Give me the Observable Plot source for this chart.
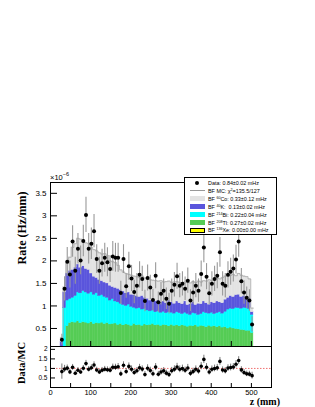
<!DOCTYPE html>
<html><head><meta charset="utf-8">
<script src="https://cdn.jsdelivr.net/npm/d3@7"></script>
<script src="https://cdn.jsdelivr.net/npm/@observablehq/plot@0.6"></script>
<style>
html,body{margin:0;padding:0;background:#fff;}
#wrap{position:relative;width:315px;height:407px;overflow:hidden;background:#fff;font-family:"Liberation Sans",Arial,sans-serif;}
#wrap svg{position:absolute;left:0;}
.ttl{position:absolute;font-family:"Liberation Serif","Times New Roman",serif;font-weight:bold;font-size:10.5px;line-height:10px;white-space:nowrap;color:#000;}
.rot{transform:translate(-50%,-50%) rotate(-90deg);}
#exp{position:absolute;left:50px;top:171px;font-size:7.5px;color:#000;}
#exp sup{font-size:5.5px;}
#legend{position:absolute;left:184px;top:177px;width:93px;height:58px;border:1px solid #000;background:#fff;box-sizing:border-box;}
.lrow{position:absolute;left:0;width:100%;height:8px;}
.ltxt{position:absolute;left:23px;top:0;font-size:5.4px;line-height:8px;white-space:nowrap;color:#000;}
.ltxt sup{font-size:3.6px;vertical-align:2px;line-height:0;}
.lsym{position:absolute;}
</style></head><body><div id="wrap"></div>
<script>
// ---- data (rate in units of 1e-6 Hz/mm) ----
const zStart = 25, zWidth = 480 / 72; // bin edges in mm
const dataRate = [0.25,1.38,1.98,1.70,2.43,1.78,2.27,2.01,2.44,3.02,2.27,2.38,2.66,2.04,1.78,1.95,2.07,1.97,1.82,2.10,
  2.07,2.07,1.29,2.04,1.44,1.88,1.61,1.31,1.45,1.69,1.60,1.11,1.62,1.41,1.13,1.67,1.08,1.27,1.34,1.16,
  1.05,1.34,1.47,1.66,1.45,1.49,1.38,1.56,1.12,1.30,1.45,1.34,1.71,2.30,1.65,1.28,1.49,1.60,1.67,2.19,
  1.49,1.45,1.69,1.76,1.83,2.03,2.43,1.55,1.30,1.18,1.12,0.59];
const dataErr = [0.12,0.27,0.32,0.30,0.35,0.30,0.34,0.32,0.35,0.39,0.34,0.35,0.37,0.32,0.30,0.31,0.32,0.32,0.30,0.33,
  0.32,0.32,0.26,0.32,0.27,0.31,0.29,0.26,0.27,0.29,0.28,0.24,0.29,0.27,0.24,0.29,0.23,0.25,0.26,0.24,
  0.23,0.26,0.27,0.29,0.27,0.27,0.26,0.28,0.24,0.26,0.27,0.26,0.29,0.34,0.29,0.25,0.27,0.28,0.29,0.33,
  0.27,0.27,0.29,0.30,0.30,0.32,0.35,0.28,0.26,0.24,0.24,0.17];
const mcTl = [0,0,0.55,0.62,0.64,0.63,0.66,0.62,0.64,0.63,0.61,0.64,0.60,0.62,0.61,0.63,0.60,0.62,0.59,0.60,
  0.61,0.58,0.60,0.57,0.59,0.58,0.56,0.60,0.57,0.58,0.56,0.59,0.57,0.58,0.60,0.57,0.58,0.56,0.58,0.57,
  0.55,0.58,0.56,0.57,0.55,0.57,0.56,0.54,0.56,0.55,0.57,0.54,0.56,0.55,0.53,0.56,0.54,0.55,0.53,0.55,
  0.52,0.53,0.50,0.52,0.50,0.49,0.48,0.47,0.46,0.45,0.45,0.40];
const mcBi = [0.05,0.95,0.57,0.53,0.54,0.59,0.64,0.66,0.69,0.67,0.66,0.66,0.65,0.66,0.61,0.61,0.60,0.56,0.53,0.55,
  0.49,0.50,0.45,0.45,0.41,0.45,0.42,0.36,0.37,0.37,0.36,0.34,0.33,0.30,0.30,0.29,0.30,0.29,0.29,0.27,
  0.31,0.27,0.27,0.29,0.29,0.25,0.29,0.28,0.24,0.29,0.26,0.26,0.26,0.31,0.31,0.27,0.31,0.27,0.31,0.31,
  0.31,0.34,0.42,0.42,0.43,0.47,0.47,0.47,0.50,0.50,0.48,0.40];
const mcK = [0.15,0.35,0.60,0.63,0.62,0.63,0.62,0.57,0.55,0.52,0.53,0.42,0.40,0.34,0.36,0.31,0.32,0.32,0.33,0.27,
  0.30,0.30,0.30,0.30,0.28,0.27,0.27,0.28,0.28,0.25,0.30,0.25,0.26,0.24,0.24,0.24,0.24,0.23,0.23,0.22,
  0.26,0.23,0.22,0.24,0.22,0.22,0.25,0.20,0.24,0.24,0.19,0.25,0.22,0.24,0.22,0.20,0.23,0.24,0.26,0.22,
  0.23,0.27,0.26,0.28,0.27,0.28,0.30,0.26,0.26,0.25,0.23,0.06];
const mcCo = [0.10,0.12,0.23,0.30,0.50,0.53,0.58,0.63,0.54,0.58,0.58,0.58,0.60,0.60,0.60,0.60,0.64,0.62,0.55,0.56,
  0.56,0.52,0.45,0.43,0.44,0.40,0.43,0.42,0.43,0.43,0.44,0.44,0.44,0.46,0.43,0.46,0.43,0.48,0.43,0.48,
  0.43,0.44,0.48,0.44,0.46,0.46,0.43,0.50,0.47,0.46,0.50,0.50,0.49,0.46,0.49,0.55,0.48,0.54,0.52,0.52,
  0.57,0.52,0.48,0.46,0.50,0.43,0.47,0.48,0.44,0.45,0.44,0.09];
const xTicks = [0,100,200,300,400,500];
const xSmallTicks = [50,100,150,200,250,300,350,400,450,500];
const yTicks = [0.5,1,1.5,2,2.5,3,3.5];
const ratioTicks = [0.5,1,1.5,2];
const compKeys = ["Tl","Bi","K","Co"];
const compColors = ["#55cc55","#00ffff","#5a55dc","#e3e3e3"];
const legendItems = [
  {pre:"Data: 0.84\u00b10.02 mHz", sup:"", post:"", sym:"dot"},
  {pre:"BF MC: \u03c7", sup:"2", post:"=135.5/127", sym:"line"},
  {pre:"BF ", sup:"60", post:"Co: 0.33\u00b10.12 mHz", sym:"box", color:"#e3e3e3"},
  {pre:"BF ", sup:"40", post:"K: &nbsp;0.13\u00b10.02 mHz", sym:"box", color:"#5a55dc"},
  {pre:"BF ", sup:"214", post:"Bi: 0.22\u00b10.04 mHz", sym:"box", color:"#00ffff"},
  {pre:"BF ", sup:"208", post:"Tl: 0.27\u00b10.02 mHz", sym:"box", color:"#55cc55"},
  {pre:"BF ", sup:"136", post:"Xe: 0.00\u00b10.00 mHz", sym:"box", color:"#ffff00", border:true}
];

// ---- tables ----
const comps = [mcTl, mcBi, mcK, mcCo];
const stackRows = [];
comps.forEach((arr, c) => arr.forEach((v, i) => stackRows.push({
  z1: zStart + i * zWidth, z2: zStart + (i + 1) * zWidth, v, comp: compKeys[c]})));
const bins = dataRate.map((v, i) => {
  const tot = mcTl[i] + mcBi[i] + mcK[i] + mcCo[i];
  return {z: zStart + (i + 0.5) * zWidth, z1: zStart + i * zWidth, v, e: dataErr[i], tot,
          r: v / tot, re: dataErr[i] / tot};
});
const outline = bins.map(b => ({z: b.z1, t: b.tot}));
outline.push({z: zStart + bins.length * zWidth, t: bins[bins.length - 1].tot});

const wrap = document.getElementById("wrap");
const font = "Liberation Sans, Arial, sans-serif";

const topH = 176, fw = 221;
const topPlot = Plot.plot({
  width: 315, height: topH, marginLeft: 50, marginRight: 44, marginTop: 12, marginBottom: 0,
  x: {domain: [0, 550], axis: null},
  y: {domain: [0.1, 3.74], axis: null},
  color: {domain: compKeys, range: compColors},
  style: {fontFamily: font, background: "transparent", overflow: "visible", color: "#000"},
  marks: [
    Plot.rectY(stackRows, {x1: "z1", x2: "z2", y: "v", fill: "comp", stroke: "comp", strokeWidth: 0.4, clip: true}),
    Plot.line(outline, {x: "z", y: "t", curve: "step-after", stroke: "#a8a8a8", strokeWidth: 0.8, clip: true}),
    Plot.ruleX(bins, {x: "z", y1: d => d.v - d.e, y2: d => d.v + d.e, stroke: "#999", strokeWidth: 1.1, clip: true}),
    Plot.dot(bins, {x: "z", y: "v", r: 2, fill: "#000", clip: true}),
    Plot.frame({stroke: "#000"}),
    Plot.tickX(xSmallTicks, {x: d => d, insetTop: topH - 12 - 5, stroke: "#000"}),
    Plot.tickY(yTicks, {y: d => d, insetRight: fw - 7, stroke: "#000"}),
    Plot.axisY(yTicks, {anchor: "left", tickSize: 0, tickPadding: 4, fontSize: 8, tickFormat: d => String(d), label: null})
  ]
});
topPlot.style.top = "170px";
wrap.appendChild(topPlot);

const rH = 67, rFrame = 41;
const ratioPlot = Plot.plot({
  width: 315, height: rH, marginLeft: 50, marginRight: 44, marginTop: 6, marginBottom: 20,
  x: {domain: [0, 550], axis: null},
  y: {domain: [0, 2.15], axis: null},
  style: {fontFamily: font, background: "transparent", overflow: "visible", color: "#000"},
  marks: [
    Plot.ruleY([1], {stroke: "#f07070", strokeDasharray: "1.5,1.5", strokeWidth: 1}),
    Plot.ruleX(bins, {x: "z", y1: d => d.r - d.re, y2: d => d.r + d.re, stroke: "#555", strokeWidth: 0.8, clip: true}),
    Plot.dot(bins, {x: "z", y: "r", r: 1.8, fill: "#000", clip: true}),
    Plot.frame({stroke: "#000"}),
    Plot.tickX(xSmallTicks, {x: d => d, insetTop: rFrame - 4, stroke: "#000"}),
    Plot.tickY(ratioTicks, {y: d => d, insetRight: fw - 5, stroke: "#000"}),
    Plot.axisY(ratioTicks, {anchor: "left", tickSize: 0, tickPadding: 3, fontSize: 6.5, tickFormat: d => String(d), label: null}),
    Plot.axisX(xTicks, {anchor: "bottom", tickSize: 0, tickPadding: 2, fontSize: 7.5, tickFormat: d => String(d), label: null})
  ]
});
ratioPlot.style.top = "340px";
wrap.appendChild(ratioPlot);

// ---- titles ----
function addDiv(cls, html, css) {
  const d = document.createElement("div");
  d.className = cls; d.innerHTML = html; Object.assign(d.style, css); wrap.appendChild(d); return d;
}
addDiv("", "\u00d710<sup>\u22126</sup>", {}).id = "exp";
addDiv("ttl rot", "Rate (Hz/mm)", {left: "22px", top: "228px", fontSize: "12px"});
addDiv("ttl rot", "Data/MC", {left: "22px", top: "363px"});
addDiv("ttl", "z (mm)", {right: "35px", top: "397px", fontSize: "10px"});

// ---- legend ----
const leg = document.createElement("div");
leg.id = "legend";
legendItems.forEach((it, k) => {
  const row = document.createElement("div");
  row.className = "lrow";
  row.style.top = (1 + k * 7.9) + "px";
  let sym = "";
  if (it.sym === "dot") sym = `<div class="lsym" style="left:10px;top:2px;width:4px;height:4px;border-radius:50%;background:#000"></div>`;
  else if (it.sym === "line") sym = `<div class="lsym" style="left:5px;top:3.5px;width:15px;height:1px;background:#999"></div>`;
  else sym = `<div class="lsym" style="left:5px;top:1.3px;width:15px;height:5.4px;background:${it.color};box-sizing:border-box;${it.border ? "border:1px solid #000" : ""}"></div>`;
  row.innerHTML = sym + `<div class="ltxt">${it.pre}${it.sup ? "<sup>" + it.sup + "</sup>" : ""}${it.post}</div>`;
  leg.appendChild(row);
});
wrap.appendChild(leg);
</script></body></html>
